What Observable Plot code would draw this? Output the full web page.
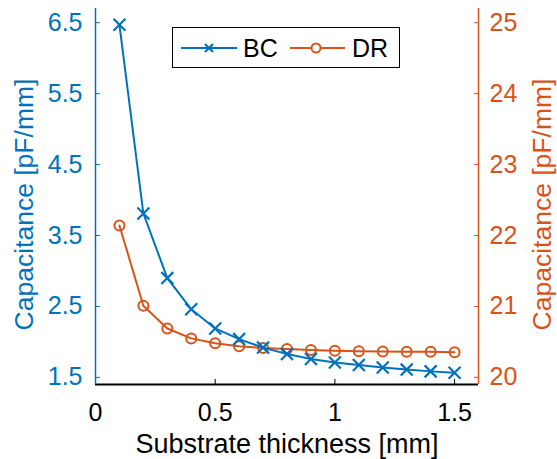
<!DOCTYPE html>
<html>
<head>
<meta charset="utf-8">
<script src="https://cdn.jsdelivr.net/npm/d3@7"></script>
<script src="https://cdn.jsdelivr.net/npm/@observablehq/plot@0.6"></script>
<style>
  html, body { margin: 0; padding: 0; background: #fff; }
  #wrap { position: relative; width: 557px; height: 459px; font-family: "Liberation Sans", Arial, sans-serif; }
  #legend { position: absolute; left: 172px; top: 27px; width: 228px; height: 41px; box-sizing: border-box; border: 1px solid #000; background: #fff; }
</style>
</head>
<body>
<div id="wrap"></div>
<script>
// Data
const thickness = [0.1, 0.2, 0.3, 0.4, 0.5, 0.6, 0.7, 0.8, 0.9, 1.0, 1.1, 1.2, 1.3, 1.4, 1.5];
const bc = [6.47, 3.81, 2.90, 2.46, 2.19, 2.04, 1.92, 1.83, 1.76, 1.71, 1.675, 1.64, 1.61, 1.585, 1.565];
const dr = [22.14, 21.01, 20.69, 20.55, 20.48, 20.44, 20.415, 20.40, 20.385, 20.375, 20.37, 20.365, 20.36, 20.36, 20.355];
const xTicks = [0, 0.5, 1, 1.5];
const leftTicks = [1.5, 2.5, 3.5, 4.5, 5.5, 6.5];
const rightTicks = [20, 21, 22, 23, 24, 25];
const xDomain = [0, 1.6];
const leftDomain = [1.4, 6.7];
const rightDomain = [19.9, 25.2];
const seriesNames = ["BC", "DR"];
const xLabel = "Substrate thickness [mm]";
const yLabel = "Capacitance [pF/mm]";

const BLUE = "#0072BD";
const ORANGE = "#D95319";
const FONT = "'Liberation Sans', Arial, sans-serif";

// map right-axis values into left-axis space
const rScale = d3.scaleLinear().domain(rightDomain).range(leftDomain);
const rInv = rScale.invert;

const bcData = thickness.map((t, i) => ({x: t, y: bc[i]}));
const drData = thickness.map((t, i) => ({x: t, y: rScale(dr[i])}));

const fmt = d => (Math.round(d * 10) / 10).toString();

const chart = Plot.plot({
  width: 557,
  height: 459,
  marginLeft: 95,
  marginRight: 79,
  marginTop: 8,
  marginBottom: 75,
  style: {fontFamily: FONT, fontSize: "25px", background: "#fff", overflow: "visible"},
  x: {domain: xDomain},
  y: {domain: leftDomain},
  marks: [
    Plot.axisX({ticks: xTicks, tickSize: -5, tickPadding: 24, tickFormat: fmt, color: "#000", fontSize: 25, label: null}),
    Plot.axisY({anchor: "left", ticks: leftTicks, tickSize: -5, tickPadding: 18, tickFormat: d => d.toFixed(1), color: BLUE, fontSize: 25, label: null}),
    Plot.axisY({anchor: "right", ticks: rightTicks.map(rScale), tickSize: -5, tickPadding: 16, tickFormat: d => Math.round(rInv(d)).toString(), color: ORANGE, fontSize: 25, label: null}),
    Plot.text([xLabel], {text: d => d, frameAnchor: "bottom", textAnchor: "middle", lineAnchor: "bottom", dy: 68, fontSize: 27, fill: "#000"}),
    Plot.text([yLabel], {text: d => d, frameAnchor: "left", textAnchor: "middle", lineAnchor: "bottom", rotate: -90, dx: -63, dy: 8, fontSize: 26.5, fill: BLUE}),
    Plot.text([yLabel], {text: d => d, frameAnchor: "right", textAnchor: "middle", lineAnchor: "bottom", rotate: -90, dx: 72, dy: 8, fontSize: 26.5, fill: ORANGE}),
    Plot.ruleY([leftDomain[0]], {stroke: "#000", strokeWidth: 2}),
    Plot.ruleX([xDomain[0]], {stroke: BLUE, strokeWidth: 1.5}),
    Plot.ruleX([xDomain[1]], {stroke: ORANGE, strokeWidth: 1.5}),
    Plot.line(drData, {x: "x", y: "y", stroke: ORANGE, strokeWidth: 2}),
    Plot.dot(drData, {x: "x", y: "y", r: 5, stroke: ORANGE, strokeWidth: 2, fill: "none"}),
    Plot.line(bcData, {x: "x", y: "y", stroke: BLUE, strokeWidth: 2}),
    Plot.dot(bcData, {x: "x", y: "y", r: 5.5, symbol: "times", stroke: BLUE, strokeWidth: 2.2})
  ]
});

const wrap = document.getElementById("wrap");
wrap.appendChild(chart);

// Legend
const legend = document.createElement("div");
legend.id = "legend";
legend.innerHTML = `
<svg width="226" height="39" style="display:block" font-family="${FONT}">
  <line x1="8" x2="64" y1="20" y2="20" stroke="${BLUE}" stroke-width="2"/>
  <path d="M32,16L40,24M40,16L32,24" stroke="${BLUE}" stroke-width="2.2" fill="none"/>
  <text x="70" y="29" font-size="25" fill="#000">${seriesNames[0]}</text>
  <line x1="117" x2="172" y1="20" y2="20" stroke="${ORANGE}" stroke-width="2"/>
  <circle cx="143" cy="20" r="4.5" stroke="${ORANGE}" stroke-width="2" fill="#fff"/>
  <text x="179" y="29" font-size="25" fill="#000">${seriesNames[1]}</text>
</svg>`;
wrap.appendChild(legend);
</script>
</body>
</html>
